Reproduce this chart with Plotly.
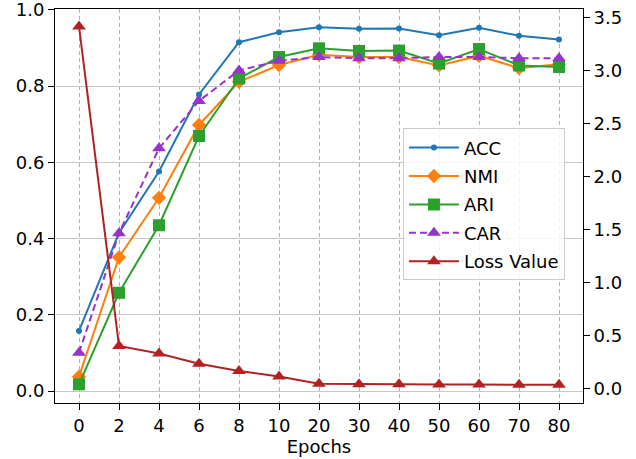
import plotly.graph_objects as go

epochs = ["0", "2", "4", "6", "8", "10", "20", "30", "40", "50", "60", "70", "80"]
acc = [0.158, 0.415, 0.576, 0.778, 0.915, 0.941, 0.954, 0.950, 0.951, 0.933, 0.953, 0.932, 0.922]
nmi = [0.038, 0.351, 0.507, 0.698, 0.811, 0.855, 0.882, 0.876, 0.876, 0.854, 0.879, 0.847, 0.857]
ari = [0.018, 0.258, 0.435, 0.669, 0.820, 0.876, 0.899, 0.892, 0.893, 0.859, 0.897, 0.854, 0.850]
car = [0.101, 0.414, 0.637, 0.761, 0.841, 0.866, 0.876, 0.873, 0.873, 0.876, 0.876, 0.873, 0.873]
loss = [3.42, 0.40, 0.327, 0.232, 0.162, 0.111, 0.042, 0.038, 0.037, 0.034, 0.034, 0.033, 0.032]

FONT = "DejaVu Sans"
FS = 18
fig = go.Figure()

def add(name, y, color, symbol, size, dash="solid", axis="y"):
    fig.add_trace(go.Scatter(
        x=epochs, y=y, name=name, mode="lines+markers", yaxis=axis,
        legendgroup=name,
        line=dict(color=color, width=2, dash=dash),
        marker=dict(color=color, symbol=symbol, size=size, line=dict(width=0)),
    ))

add("ACC", acc, "#1f77b4", "circle", 6)
add("NMI", nmi, "#ff7f0e", "diamond", 11)
add("ARI", ari, "#2ca02c", "square", 12)
add("CAR", car, "#9932cc", "triangle-up", 12, dash="7px,4px")
add("Loss Value", loss, "#b22222", "triangle-up", 12, axis="y2")

fig.update_layout(
    width=636, height=459,
    margin=dict(l=55, r=53, t=9, b=56),
    paper_bgcolor="white", plot_bgcolor="white",
    font=dict(family=FONT, size=FS, color="black"),
    showlegend=True,
    legend=dict(
        x=0.659, y=0.697, xanchor="left", yanchor="top",
        bgcolor="rgba(255,255,255,0.85)", bordercolor="#cccccc", borderwidth=1,
        font=dict(family=FONT, size=FS), tracegroupgap=2, itemwidth=50,
    ),
    xaxis=dict(
        type="category", range=[-0.6, 12.6], automargin=False,
        title=dict(text="Epochs", font=dict(size=FS), standoff=2),
        showgrid=True, gridcolor="#b0b0b0", griddash="4px,3px", gridwidth=1,
        showline=True, linecolor="black", linewidth=1, mirror=True,
        ticks="outside", ticklen=6, tickcolor="black", zeroline=False,
    ),
    yaxis=dict(
        range=[-0.031, 1.002], tickvals=[0, 0.2, 0.4, 0.6, 0.8, 1.0], tickformat=".1f",
        automargin=False, ticklabeloverflow="allow",
        showgrid=True, gridcolor="#c8c8c8", gridwidth=1,
        showline=True, linecolor="black", linewidth=1,
        ticks="outside", ticklen=6, tickcolor="black", zeroline=False,
    ),
    yaxis2=dict(
        overlaying="y", side="right", range=[-0.14, 3.585], automargin=False,
        ticklabeloverflow="allow",
        tickvals=[0, 0.5, 1.0, 1.5, 2.0, 2.5, 3.0, 3.5], tickformat=".1f",
        showgrid=False, showline=True, linecolor="black", linewidth=1,
        ticks="outside", ticklen=6, tickcolor="black", zeroline=False,
    ),
)

fig.write_html("out.html", config={"displayModeBar": False},
               post_script="document.body.style.margin='0';")
